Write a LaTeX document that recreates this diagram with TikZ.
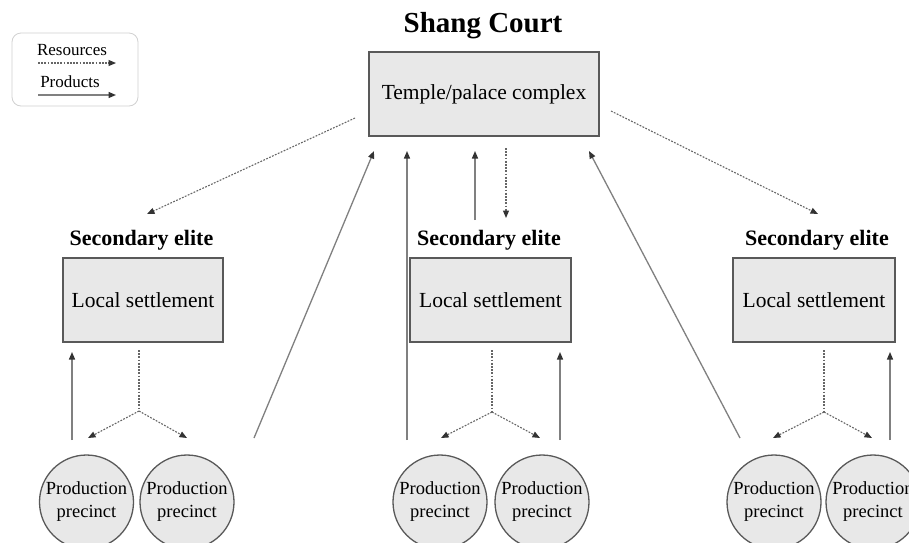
\documentclass[tikz,border=0pt]{standalone}
\usepackage{fontspec}
\setmainfont{Liberation Serif}
\usetikzlibrary{arrows.meta}
\begin{document}
\begin{tikzpicture}[x=1pt,y=-1pt,
  tipa/.style={-{Triangle[length=7.5pt,width=6pt,color=black!80]}},
  res/.style={draw=black!60, line width=1.1pt, dash pattern=on 1.8pt off 1.4pt, tipa},
  prod/.style={draw=black!50, line width=1.3pt, tipa},
  boxnode/.style={draw=black!65, line width=1.3pt, fill=black!9, inner sep=0pt,
    minimum height=84pt, font=\fontsize{21.5}{24}\selectfont},
  circnode/.style={circle, draw=black!65, line width=1.3pt, fill=black!9, inner sep=0pt,
    minimum size=94pt, align=center, font=\fontsize{18.5}{23}\selectfont},
  elite/.style={font=\fontsize{22}{24}\selectfont\bfseries, inner sep=0pt},
  legtext/.style={font=\fontsize{17}{19}\selectfont, inner sep=0pt}
]
\clip (0,0) rectangle (909,542);
\fill[white] (0,0) rectangle (909,542);

% legend
\node[draw=black!18, line width=0.8pt, rounded corners=9pt, minimum width=126pt, minimum height=73pt, inner sep=0pt] (legend) at (75,69.5) {};
\node[legtext] (lres) at (72,50) {Resources};
\node[legtext] (lprod) at (70,82) {Products};
\coordinate (lra) at (38,63); \coordinate (lrb) at (116,63);
\coordinate (lpa) at (38,95); \coordinate (lpb) at (116,95);
\draw[res] (lra) -- (lrb);
\draw[prod] (lpa) -- (lpb);

% title and top box
\node[font=\fontsize{29}{32}\selectfont\bfseries, inner sep=0pt] (title) at (483,26) {Shang Court};
\node[boxnode, minimum width=230pt] (temple) at (484,94) {Temple/palace complex};

% secondary elites
\node[elite] (e1) at (141.5,240) {Secondary elite};
\node[elite] (e2) at (489,240) {Secondary elite};
\node[elite] (e3) at (817,240) {Secondary elite};
\node[boxnode, minimum width=160pt] (b1) at (143,300) {Local settlement};
\node[boxnode, minimum width=161pt] (b2) at (490.5,300) {Local settlement};
\node[boxnode, minimum width=162pt] (b3) at (814,300) {Local settlement};

% production precincts
\node[circnode] (c1) at (86.5,502) {Production\\precinct};
\node[circnode] (c2) at (187,502) {Production\\precinct};
\node[circnode] (c3) at (440,502) {Production\\precinct};
\node[circnode] (c4) at (542,502) {Production\\precinct};
\node[circnode] (c5) at (774,502) {Production\\precinct};
\node[circnode] (c6) at (873,502) {Production\\precinct};

% temple to secondary elites (resources)
\coordinate (tl) at (355,118); \coordinate (al) at (147,214);
\coordinate (tr) at (611,111); \coordinate (ar) at (818,214);
\draw[res] (tl) -- (al);
\draw[res] (tr) -- (ar);
\coordinate (td) at (506,148); \coordinate (tdb) at (506,218);
\draw[res] (td) -- (tdb);
\coordinate (tu) at (475,220); \coordinate (tut) at (475,151);
\draw[prod] (tu) -- (tut);

% long products lines
\coordinate (l1a) at (254,438); \coordinate (l1b) at (374,151);
\draw[prod] (l1a) -- (l1b);
\coordinate (l2a) at (407,440); \coordinate (l2b) at (407,151);
\draw[prod] (l2a) -- (l2b);
\coordinate (l3a) at (740,438); \coordinate (l3b) at (589,151);
\draw[prod] (l3a) -- (l3b);

% group 1
\coordinate (g1s) at (139,350); \coordinate (j1) at (139,411);
\coordinate (g1l) at (88,438); \coordinate (g1r) at (187,438);
\draw[res,-] (g1s) -- (j1);
\draw[res] (j1) -- (g1l);
\draw[res] (j1) -- (g1r);
\coordinate (u1a) at (72,440); \coordinate (u1b) at (72,352);
\draw[prod] (u1a) -- (u1b);

% group 2
\coordinate (g2s) at (492,350); \coordinate (j2) at (492,412);
\coordinate (g2l) at (441,438); \coordinate (g2r) at (540,438);
\draw[res,-] (g2s) -- (j2);
\draw[res] (j2) -- (g2l);
\draw[res] (j2) -- (g2r);
\coordinate (u2a) at (560,440); \coordinate (u2b) at (560,352);
\draw[prod] (u2a) -- (u2b);

% group 3
\coordinate (g3s) at (824,350); \coordinate (j3) at (824,412);
\coordinate (g3l) at (773,438); \coordinate (g3r) at (872,438);
\draw[res,-] (g3s) -- (j3);
\draw[res] (j3) -- (g3l);
\draw[res] (j3) -- (g3r);
\coordinate (u3a) at (890,440); \coordinate (u3b) at (890,352);
\draw[prod] (u3a) -- (u3b);
\end{tikzpicture}
\end{document}
